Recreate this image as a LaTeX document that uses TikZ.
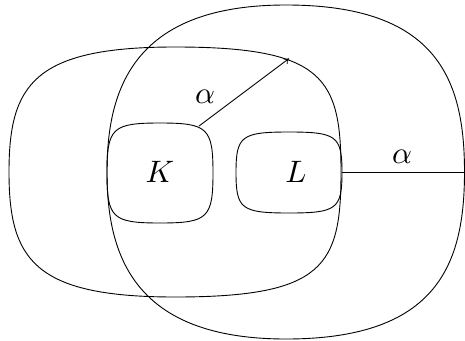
\documentclass[tikz,border=0pt]{standalone}
\usetikzlibrary{arrows.meta}
\tikzset{
  blob/.style={draw, line width=0.9pt},
  lab/.style={inner sep=0pt, scale=3.1},
  conn/.style={line width=0.9pt},
}
% #1 cx, #2 cy, #3 r-left, #4 r-right, #5 r-vertical,
% #6/#7 horizontal/vertical control factor, left half
% #8/#9 horizontal/vertical control factor, right half
\newcommand{\sqshape}[9]{%
  \draw[blob] ({#1-#3},#2)
    .. controls ({#1-#3},{#2-#7*#5}) and ({#1-#6*#3},{#2-#5}) .. (#1,{#2-#5})
    .. controls ({#1+#8*#4},{#2-#5}) and ({#1+#4},{#2-#9*#5}) .. ({#1+#4},#2)
    .. controls ({#1+#4},{#2+#9*#5}) and ({#1+#8*#4},{#2+#5}) .. (#1,{#2+#5})
    .. controls ({#1-#6*#3},{#2+#5}) and ({#1-#3},{#2+#7*#5}) .. cycle;}
\begin{document}
\begin{tikzpicture}[x=1pt,y=-1pt]
\useasboundingbox (0,0) rectangle (465,340);
% big blob A (left)
\sqshape{175}{172}{166}{166}{125}{0.85}{0.7}{0.9}{0.75}
% big blob B (right)
\sqshape{286}{172}{179}{178.5}{167}{0.85}{0.5}{0.85}{0.55}
% K box
\sqshape{160}{173}{53}{53}{50}{0.9}{0.9}{0.9}{0.9}
% L box
\sqshape{289}{172.5}{53}{53}{40.5}{0.9}{0.9}{0.9}{0.9}
\node[lab] (K) at (160,172) {$K$};
\node[lab] (L) at (296,172) {$L$};
\coordinate (Ktr) at (199,126);
\coordinate (Atr) at (289,58.5);
\coordinate (Lr) at (342,172);
\coordinate (Br) at (465,172);
\draw[conn,-{To[length=5pt,width=7pt]}] (Ktr) -- (Atr);
\draw[conn] (Lr) -- (Br);
\node[lab] (a1) at (205,97) {$\alpha$};
\node[lab] (a2) at (402,157) {$\alpha$};
\end{tikzpicture}
\end{document}
